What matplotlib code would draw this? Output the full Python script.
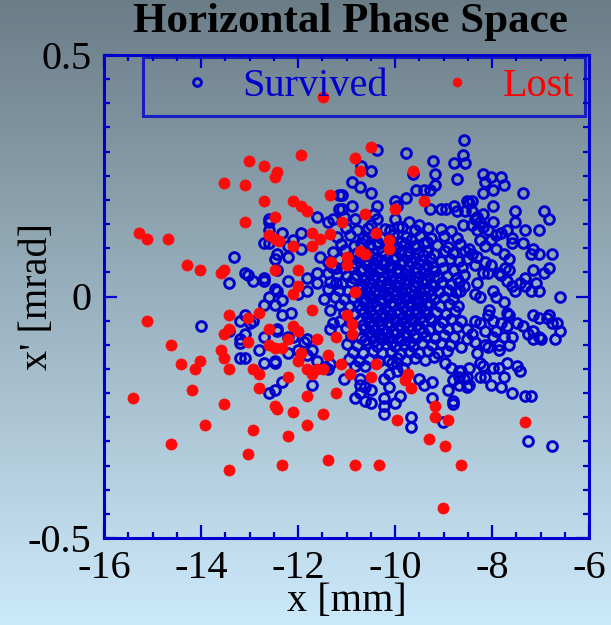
import numpy as np
import matplotlib
matplotlib.use("Agg")
import matplotlib.pyplot as plt
from matplotlib.ticker import MultipleLocator, FixedLocator

# ---------------- data (x [mm], x' [mrad]) ----------------
lost_x = [-11.49, -10.50, -10.83, -10.72, -9.62, -11.94, -13.02, -12.70, -12.44, -12.48,
          -13.53, -13.09, -12.70, -12.10, -11.93, -11.82, -11.33, -9.40, -10.00, -10.61,
          -11.10, -13.09, -12.48, -15.28, -15.11, -14.68, -12.59, -12.48, -12.40, -12.10,
          -11.71, -11.71, -11.55, -11.33, -10.39, -10.12, -10.12, -10.72, -10.61, -11.00,
          -11.00, -11.32, -14.29, -14.02, -13.58, -13.52, -12.48, -11.99, -11.99, -12.10,
          -10.83, -11.71, -15.12, -13.42, -13.03, -12.81, -13.53, -13.42, -12.59, -12.10,
          -11.99, -11.60, -11.22, -11.00, -10.89, -10.89, -13.03, -14.62, -12.59, -12.48,
          -12.32, -12.21, -13.58, -13.53, -11.93, -11.99, -11.38, -11.11, -14.41, -14.02,
          -14.13, -13.42, -12.92, -12.81, -11.82, -11.71, -11.60, -11.49, -10.92, -10.50,
          -10.39, -9.73, -9.79, -9.68, -12.21, -12.81, -14.19, -15.40, -11.82, -11.22,
          -13.53, -12.48, -12.43, -12.10, -11.49, -9.18, -9.18, -8.91, -9.95, -13.91,
          -11.82, -12.92, -12.21, -9.29, -8.96, -7.31, -14.62, -13.03, -12.32, -11.38,
          -13.42, -10.83, -10.34, -8.63, -9.02]
lost_y = [0.414, 0.309, 0.286, 0.259, 0.259, 0.292, 0.281, 0.270, 0.258, 0.248,
          0.236, 0.231, 0.198, 0.198, 0.187, 0.176, 0.210, 0.198, 0.181, 0.171,
          0.154, 0.154, 0.165, 0.132, 0.120, 0.120, 0.127, 0.120, 0.115, 0.105,
          0.131, 0.105, 0.119, 0.130, 0.132, 0.116, 0.098, 0.094, 0.087, 0.082,
          0.065, 0.071, 0.065, 0.055, 0.049, 0.055, 0.055, 0.055, 0.022, 0.005,
          0.010, -0.028, -0.051, -0.039, -0.045, -0.034, -0.078, -0.067, -0.067, -0.062,
          -0.072, -0.089, -0.084, -0.039, -0.056, -0.078, -0.095, -0.100, -0.100, -0.106,
          -0.106, -0.089, -0.111, -0.128, -0.117, -0.134, -0.122, -0.139, -0.139, -0.134,
          -0.150, -0.150, -0.150, -0.161, -0.150, -0.161, -0.150, -0.150, -0.161, -0.167,
          -0.139, -0.161, -0.172, -0.189, -0.167, -0.189, -0.194, -0.211, -0.205, -0.200,
          -0.222, -0.227, -0.233, -0.239, -0.244, -0.227, -0.249, -0.255, -0.255, -0.266,
          -0.266, -0.277, -0.288, -0.294, -0.310, -0.260, -0.305, -0.327, -0.349, -0.338,
          -0.360, -0.349, -0.349, -0.349, -0.438]

# survived particles: outer (right side) region
surv_right = [(-8.58, 0.325), (-8.60, 0.292), (-8.56, 0.276), (-8.19, 0.254), (-8.03, 0.248),
              (-7.81, 0.248), (-8.14, 0.237), (-7.75, 0.231), (-7.97, 0.220), (-8.19, 0.215),
              (-7.37, 0.215), (-8.52, 0.198), (-8.41, 0.198), (-8.47, 0.193), (-7.97, 0.187),
              (-8.41, 0.176), (-8.19, 0.171), (-8.30, 0.165), (-8.36, 0.160), (-8.25, 0.154),
              (-8.41, 0.149), (-8.19, 0.143), (-8.30, 0.138), (-7.53, 0.176), (-7.53, 0.154),
              (-6.93, 0.176), (-6.82, 0.160), (-7.97, 0.154), (-8.60, 0.149), (-7.31, 0.138),
              (-7.04, 0.138), (-7.70, 0.138), (-7.81, 0.132), (-7.92, 0.127), (-7.59, 0.121),
              (-7.59, 0.110), (-8.08, 0.138), (-8.03, 0.116), (-8.14, 0.105), (-8.25, 0.116),
              (-7.37, 0.110), (-8.47, 0.099), (-7.92, 0.099), (-7.75, 0.088), (-7.64, 0.077),
              (-7.15, 0.099), (-7.20, 0.088), (-7.04, 0.088), (-6.76, 0.088), (-8.52, 0.077),
              (-8.41, 0.088), (-8.30, 0.082), (-8.36, 0.066), (-8.14, 0.071), (-8.03, 0.066),
              (-8.19, 0.049), (-8.08, 0.049), (-7.73, 0.060), (-7.64, 0.055), (-7.81, 0.044),
              (-7.86, 0.049), (-7.15, 0.055), (-6.93, 0.049), (-6.82, 0.060), (-8.58, 0.044),
              (-8.30, 0.027), (-8.58, 0.022), (-8.66, 0.011), (-7.31, 0.038), (-7.42, 0.027),
              (-7.31, 0.022), (-7.09, 0.027), (-7.20, 0.011), (-7.04, 0.011), (-7.70, 0.033),
              (-7.59, 0.022), (-7.97, 0.011), (-8.36, 0.005), (-8.25, 0.000), (-7.92, 0.000),
              (-6.60, 0.000), (-7.75, -0.011), (-7.53, 0.011),
              (-8.06, -0.028), (-8.08, -0.039), (-7.70, -0.034), (-7.64, -0.039), (-7.97, -0.050),
              (-7.81, -0.055), (-7.70, -0.061), (-7.15, -0.039), (-7.04, -0.045), (-6.82, -0.039),
              (-6.76, -0.055), (-6.65, -0.055), (-6.60, -0.072), (-6.71, -0.089), (-6.87, -0.045),
              (-7.48, -0.055), (-7.37, -0.061), (-7.26, -0.078), (-7.15, -0.072), (-7.15, -0.089),
              (-7.04, -0.083), (-6.98, -0.089), (-8.36, -0.050), (-8.25, -0.055), (-8.52, -0.067),
              (-8.41, -0.078), (-8.52, -0.089), (-8.36, -0.094), (-8.63, -0.105), (-8.14, -0.072),
              (-7.92, -0.072), (-7.97, -0.083), (-7.75, -0.083), (-7.59, -0.083), (-8.14, -0.100),
              (-8.08, -0.105), (-7.86, -0.100), (-7.86, -0.111), (-7.64, -0.100), (-8.30, -0.116),
              (-8.47, -0.149), (-8.25, -0.138), (-8.19, -0.144), (-8.25, -0.166), (-8.14, -0.166),
              (-7.97, -0.149), (-7.86, -0.149), (-7.75, -0.166), (-7.70, -0.138), (-7.48, -0.144),
              (-7.42, -0.155), (-8.63, -0.155), (-8.58, -0.171), (-8.52, -0.188), (-8.47, -0.183),
              (-8.52, -0.166), (-8.03, -0.183), (-7.81, -0.188), (-7.59, -0.199), (-7.31, -0.205),
              (-7.20, -0.205), (-7.26, -0.299), (-6.76, -0.310)]

# survived particles: lower middle region
surv_low = [(-8.96, -0.138), (-8.85, -0.149), (-8.69, -0.155), (-8.69, -0.183), (-8.91, -0.194),
            (-8.80, -0.216), (-8.80, -0.223), (-9.24, -0.210), (-9.51, -0.171), (-9.40, -0.183),
            (-9.24, -0.177), (-9.68, -0.249), (-9.68, -0.271), (-10.23, -0.210), (-10.23, -0.227),
            (-10.23, -0.243), (-10.01, -0.221), (-9.90, -0.205), (-10.12, -0.188), (-10.83, -0.210),
            (-10.72, -0.199), (-10.61, -0.216), (-10.50, -0.194), (-10.50, -0.221), (-10.72, -0.183),
            (-10.61, -0.188), (-10.83, -0.144), (-10.61, -0.144), (-10.72, -0.171), (-10.23, -0.171),
            (-10.12, -0.160), (-9.95, -0.155), (-10.06, -0.138), (-9.95, -0.138), (-9.84, -0.149),
            (-11.05, -0.171), (-9.02, -0.260), (-8.69, -0.167), (-8.80, -0.172)]

# survived particles: left region
surv_left = [(-13.99, -0.061), (-13.20, -0.050), (-13.09, -0.039), (-12.92, -0.050), (-12.98, -0.055),
             (-13.42, -0.072), (-13.20, -0.089), (-13.20, -0.096), (-13.09, -0.078), (-12.70, -0.083),
             (-12.81, -0.111), (-13.20, -0.127), (-13.09, -0.127), (-12.70, -0.138), (-12.48, -0.133),
             (-12.48, -0.138), (-12.21, -0.116), (-11.99, -0.111), (-12.59, -0.199), (-12.48, -0.194),
             (-12.32, -0.177), (-11.71, -0.183), (-12.59, 0.000), (-12.48, -0.017), (-12.32, -0.039),
             (-12.43, -0.067), (-12.43, -0.072), (-12.21, -0.083), (-12.10, -0.083), (-11.82, -0.089),
             (-11.71, -0.111), (-11.60, -0.133), (-11.82, -0.122), (-11.46, -0.006), (-11.33, -0.028),
             (-11.27, -0.055), (-11.33, -0.067), (-12.70, -0.018), (-12.32, -0.007), (-12.48, 0.016),
             (-12.15, -0.034), (-11.88, -0.095), (-11.44, -0.145), (-11.33, -0.139), (-11.38, -0.150),
             (-12.92, 0.032), (-12.70, 0.032), (-13.42, 0.027),
             (-13.31, 0.082), (-13.09, 0.049), (-13.03, 0.044), (-12.70, 0.038), (-12.59, 0.160),
             (-12.59, 0.154), (-12.59, 0.138), (-12.70, 0.110), (-12.59, 0.110), (-12.32, 0.132),
             (-12.21, 0.105), (-12.21, 0.082), (-12.43, 0.088), (-12.48, 0.077), (-12.10, 0.116),
             (-11.93, 0.132), (-11.93, 0.099), (-11.60, 0.165), (-11.38, 0.154), (-11.16, 0.182),
             (-11.16, 0.210), (-12.43, 0.055), (-12.21, 0.033), (-12.43, 0.011), (-11.82, 0.038),
             (-11.60, 0.049), (-11.60, 0.027), (-11.38, 0.016), (-11.55, 0.082), (-11.38, 0.071),
             (-11.38, 0.049), (-11.22, 0.060), (-11.22, 0.027), (-11.99, 0.005), (-11.82, 0.011)]

# survived particles: upper middle region
surv_up = [(-10.38, 0.303), (-9.77, 0.298), (-10.71, 0.270), (-10.49, 0.259), (-10.89, 0.237),
           (-10.72, 0.226), (-10.50, 0.215), (-11.09, 0.210), (-11.09, 0.182), (-10.89, 0.187),
           (-9.22, 0.281), (-9.17, 0.254), (-9.28, 0.220), (-9.17, 0.231), (-9.62, 0.254),
           (-9.57, 0.220), (-9.40, 0.220), (-9.77, 0.204), (-9.99, 0.198), (-9.95, 0.187),
           (-8.73, 0.243), (-8.78, 0.276), (-10.38, 0.187), (-10.43, 0.171), (-10.38, 0.160),
           (-10.49, 0.149), (-9.99, 0.160), (-9.94, 0.143), (-10.10, 0.138), (-9.72, 0.154),
           (-9.50, 0.149), (-9.28, 0.182), (-9.06, 0.182), (-8.95, 0.182), (-8.78, 0.187),
           (-8.73, 0.176), (-8.56, 0.176), (-10.83, 0.160), (-11.05, 0.165), (-11.27, 0.160)]

# survived particles: dense core
surv_core = [
    (-11.02, 0.141), (-10.78, 0.138), (-10.55, 0.142), (-10.21, 0.139), (-9.86, 0.143), (-9.58, 0.137),
    (-9.31, 0.141), (-9.05, 0.139), (-8.84, 0.136),
    (-11.20, 0.124), (-10.93, 0.127), (-10.66, 0.121), (-10.47, 0.126), (-10.29, 0.122), (-10.04, 0.127),
    (-9.77, 0.123), (-9.49, 0.126), (-9.25, 0.121), (-8.98, 0.125), (-8.72, 0.122),
    (-10.60, 0.116), (-10.38, 0.113), (-10.10, 0.117), (-9.88, 0.112), (-9.66, 0.116), (-9.35, 0.113),
    (-11.12, 0.108), (-10.85, 0.105), (-10.70, 0.110), (-10.52, 0.104), (-10.36, 0.109), (-10.15, 0.106),
    (-9.95, 0.103), (-9.80, 0.108), (-9.61, 0.104), (-9.40, 0.110), (-9.13, 0.106), (-8.90, 0.103),
    (-8.66, 0.109),
    (-11.27, 0.093), (-11.03, 0.096), (-10.79, 0.091), (-10.61, 0.095), (-10.44, 0.090), (-10.27, 0.094),
    (-10.08, 0.097), (-9.90, 0.091), (-9.71, 0.095), (-9.53, 0.090), (-9.33, 0.094), (-9.19, 0.089),
    (-8.97, 0.095), (-8.80, 0.091), (-8.55, 0.094),
    (-10.70, 0.085), (-10.48, 0.082), (-10.20, 0.086), (-9.98, 0.081), (-9.76, 0.084), (-9.58, 0.080),
    (-9.42, 0.086),
    (-11.15, 0.077), (-10.96, 0.074), (-10.73, 0.079), (-10.55, 0.073), (-10.40, 0.077), (-10.19, 0.072),
    (-10.02, 0.078), (-9.84, 0.074), (-9.66, 0.071), (-9.45, 0.076), (-9.27, 0.079), (-9.06, 0.073),
    (-8.86, 0.077), (-8.69, 0.074),
    (-10.82, 0.069), (-10.58, 0.066), (-10.27, 0.068), (-10.07, 0.064), (-9.90, 0.067), (-9.72, 0.063),
    (-9.50, 0.068), (-9.34, 0.065),
    (-11.30, 0.061), (-11.08, 0.058), (-10.88, 0.062), (-10.67, 0.057), (-10.50, 0.060), (-10.33, 0.055),
    (-10.13, 0.061), (-9.96, 0.057), (-9.77, 0.054), (-9.59, 0.059), (-9.38, 0.056), (-9.22, 0.062),
    (-9.01, 0.058), (-8.78, 0.055), (-8.62, 0.061),
    (-10.70, 0.053), (-10.52, 0.049), (-10.33, 0.052), (-10.14, 0.047), (-9.94, 0.050), (-9.78, 0.046),
    (-9.58, 0.051), (-9.40, 0.048), (-9.17, 0.052),
    (-11.20, 0.046), (-10.99, 0.042), (-10.80, 0.045), (-10.60, 0.041), (-10.43, 0.044), (-10.24, 0.040),
    (-10.06, 0.043), (-9.88, 0.039), (-9.70, 0.044), (-9.52, 0.041), (-9.31, 0.045), (-9.12, 0.040),
    (-8.93, 0.043), (-8.73, 0.039),
    (-10.84, 0.038), (-10.63, 0.034), (-10.45, 0.036), (-10.27, 0.032), (-10.09, 0.035), (-9.92, 0.031),
    (-9.74, 0.034), (-9.55, 0.030), (-9.36, 0.035),
    (-11.33, 0.030), (-11.10, 0.027), (-10.91, 0.031), (-10.72, 0.026), (-10.54, 0.029), (-10.36, 0.024),
    (-10.17, 0.028), (-9.99, 0.023), (-9.81, 0.027), (-9.63, 0.024), (-9.44, 0.029), (-9.25, 0.025),
    (-9.04, 0.030), (-8.85, 0.026), (-8.68, 0.031),
    (-10.68, 0.022), (-10.50, 0.018), (-10.31, 0.021), (-10.12, 0.017), (-9.93, 0.020), (-9.77, 0.015),
    (-9.58, 0.019), (-9.39, 0.016), (-9.19, 0.021),
    (-11.16, 0.014), (-10.96, 0.011), (-10.77, 0.015), (-10.58, 0.010), (-10.41, 0.013), (-10.22, 0.009),
    (-10.04, 0.012), (-9.86, 0.008), (-9.68, 0.013), (-9.49, 0.009), (-9.30, 0.014), (-9.10, 0.010),
    (-8.91, 0.013), (-8.74, 0.009),
    (-10.74, 0.006), (-10.54, 0.002), (-10.35, 0.005), (-10.17, 0.001), (-9.99, 0.004), (-9.81, 0.000),
    (-9.62, 0.003), (-9.45, -0.001), (-9.25, 0.004),
    (-11.24, -0.002), (-11.05, -0.005), (-10.86, -0.001), (-10.67, -0.006), (-10.49, -0.003), (-10.31, -0.007),
    (-10.12, -0.002), (-9.94, -0.006), (-9.76, -0.003), (-9.57, -0.007), (-9.38, -0.002), (-9.19, -0.005),
    (-8.99, -0.001), (-8.80, -0.006),
    (-10.65, -0.010), (-10.47, -0.013), (-10.28, -0.009), (-10.09, -0.014), (-9.90, -0.011), (-9.71, -0.015),
    (-9.52, -0.010), (-9.33, -0.013),
    (-11.14, -0.018), (-10.94, -0.021), (-10.75, -0.017), (-10.56, -0.022), (-10.38, -0.019), (-10.20, -0.023),
    (-10.02, -0.018), (-9.84, -0.022), (-9.65, -0.017), (-9.46, -0.021), (-9.27, -0.016), (-9.07, -0.020),
    (-8.88, -0.015), (-8.70, -0.019),
    (-10.70, -0.026), (-10.51, -0.029), (-10.32, -0.025), (-10.14, -0.030), (-9.95, -0.027), (-9.77, -0.031),
    (-9.58, -0.026), (-9.40, -0.030),
    (-11.06, -0.034), (-10.85, -0.037), (-10.64, -0.033), (-10.46, -0.038), (-10.27, -0.035), (-10.09, -0.039),
    (-9.91, -0.034), (-9.72, -0.038), (-9.53, -0.033), (-9.35, -0.037), (-9.15, -0.032), (-8.95, -0.036),
    (-8.77, -0.031),
    (-10.58, -0.042), (-10.40, -0.045), (-10.21, -0.041), (-10.03, -0.046), (-9.84, -0.043), (-9.66, -0.047),
    (-9.47, -0.042), (-9.28, -0.045),
    (-11.14, -0.050), (-10.93, -0.053), (-10.73, -0.049), (-10.53, -0.054), (-10.35, -0.051), (-10.16, -0.055),
    (-9.98, -0.050), (-9.79, -0.054), (-9.61, -0.049), (-9.42, -0.053), (-9.23, -0.048), (-9.02, -0.052),
    (-8.84, -0.047), (-8.64, -0.051),
    (-10.66, -0.058), (-10.46, -0.061), (-10.28, -0.057), (-10.10, -0.062), (-9.91, -0.059), (-9.73, -0.063),
    (-9.54, -0.058),
    (-11.02, -0.066), (-10.81, -0.069), (-10.61, -0.065), (-10.43, -0.070), (-10.24, -0.067), (-10.05, -0.071),
    (-9.87, -0.066), (-9.68, -0.070), (-9.49, -0.065), (-9.30, -0.069), (-9.10, -0.064), (-8.91, -0.068),
    (-8.72, -0.063),
    (-10.52, -0.074), (-10.34, -0.077), (-10.17, -0.073), (-9.99, -0.078), (-9.80, -0.075), (-9.61, -0.079),
    (-9.42, -0.074),
    (-10.90, -0.082), (-10.70, -0.085), (-10.50, -0.081), (-10.31, -0.086), (-10.12, -0.083), (-9.94, -0.087),
    (-9.75, -0.082), (-9.57, -0.086), (-9.37, -0.081), (-9.17, -0.085), (-8.98, -0.080), (-8.79, -0.084),
    (-10.62, -0.090), (-10.44, -0.093), (-10.25, -0.089), (-10.06, -0.094), (-9.88, -0.091), (-9.69, -0.095),
    (-11.00, -0.098), (-10.78, -0.101), (-10.58, -0.097), (-10.38, -0.102), (-10.19, -0.099), (-10.01, -0.103),
    (-9.82, -0.098), (-9.63, -0.102), (-9.44, -0.097), (-9.24, -0.101), (-9.05, -0.096), (-8.86, -0.100),
    (-10.87, -0.114), (-10.66, -0.117), (-10.46, -0.113), (-10.27, -0.118), (-10.08, -0.115), (-9.89, -0.119),
    (-9.70, -0.114), (-9.51, -0.118), (-9.31, -0.113), (-9.12, -0.117), (-8.93, -0.112),
    (-10.94, -0.130), (-10.74, -0.133), (-10.53, -0.129), (-10.34, -0.134), (-10.15, -0.131), (-9.96, -0.128),
    (-9.77, -0.132), (-9.58, -0.127), (-9.38, -0.131), (-9.19, -0.126),
]

x_ticks = [-16, -14, -12, -10, -8, -6]
y_ticks = [-0.5, 0, 0.5]
title = "Horizontal Phase Space"

# ---------------- style ----------------
BLUE = "#0000cc"
RED = "#ff0a0a"
FONT = ["Liberation Serif", "DejaVu Serif"]
plt.rcParams["font.family"] = FONT

W, H = 611, 625
fig = plt.figure(figsize=(W / 100, H / 100), dpi=100)

# gradient background
bg = fig.add_axes([0, 0, 1, 1], zorder=-10)
top = np.array([0.42, 0.49, 0.53])
bot = np.array([0.80, 0.915, 0.985])
t = np.linspace(0, 1, 256)[:, None]
grad = top[None, :] * (1 - t) + bot[None, :] * t
bg.imshow(grad[:, None, :], aspect="auto", extent=[0, 1, 0, 1], origin="upper")
bg.set_axis_off()

L, R, T, B = 104, 589, 55, 538
ax = fig.add_axes([L / W, 1 - B / H, (R - L) / W, (B - T) / H])
ax.set_facecolor("none")

sx = [p[0] for p in surv_right + surv_low + surv_left + surv_up + surv_core]
sy = [p[1] for p in surv_right + surv_low + surv_left + surv_up + surv_core]

ax.plot(sx, sy, linestyle="none", marker="o", markersize=7.0, markerfacecolor="none",
        markeredgecolor=BLUE, markeredgewidth=2.1, label="Survived", zorder=2)
ax.plot(lost_x, lost_y, linestyle="none", marker="o", markersize=8.0, markerfacecolor=RED,
        markeredgecolor=RED, markeredgewidth=0.5, label="Lost", zorder=3)

ax.set_xlim(-16, -6)
ax.set_ylim(-0.5, 0.5)
ax.xaxis.set_major_locator(FixedLocator(x_ticks))
ax.yaxis.set_major_locator(FixedLocator(y_ticks))
ax.set_xticklabels([f"{v:g}" for v in x_ticks])
ax.set_yticklabels([f"{v:g}" for v in y_ticks])
ax.xaxis.set_minor_locator(MultipleLocator(0.5))
ax.yaxis.set_minor_locator(MultipleLocator(0.05))
ax.tick_params(which="both", direction="in", top=True, right=True, color=BLUE,
               labelsize=29, labelcolor="black")
ax.tick_params(which="major", length=9.5, width=1.6, pad=9)
ax.tick_params(which="minor", length=4.5, width=1.6)
for s in ax.spines.values():
    s.set_color(BLUE)
    s.set_linewidth(2.2)

ax.set_xlabel("x [mm]", fontsize=29)
ax.xaxis.set_label_coords(0.5, (B - 602) / (B - T))
ax.xaxis.label.set_va("center")
ax.set_ylabel("x' [mrad]", fontsize=29)
ax.yaxis.set_label_coords((38 - L) / (R - L), 0.5)
ax.yaxis.label.set_va("center")
fig.text((350) / W, 1 - 22 / H, title, ha="center", va="center", fontsize=31, fontweight="bold")

x0 = (143 - L) / (R - L)
x1 = (585 - L) / (R - L)
y1 = (B - 57) / (B - T)
y0 = (B - 115) / (B - T)
leg = ax.legend(loc="upper left", bbox_to_anchor=(x0, y0, x1 - x0, y1 - y0), mode="expand",
                ncol=2, fontsize=29, frameon=True, fancybox=False, borderaxespad=0,
                handlelength=2.15, handletextpad=0.05, borderpad=0.27, columnspacing=1.0,
                markerscale=0.8)
leg.get_frame().set_edgecolor(BLUE)
leg.get_frame().set_linewidth(2.2)
leg.get_frame().set_facecolor("none")
leg.get_texts()[0].set_color(BLUE)
leg.get_texts()[1].set_color("red")

fig.savefig("out.png", dpi=100)
